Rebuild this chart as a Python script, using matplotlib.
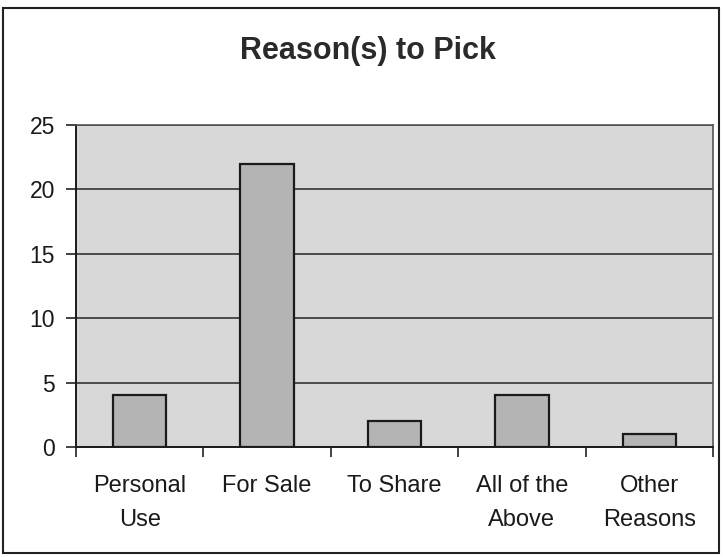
import matplotlib
matplotlib.use("Agg")
import matplotlib.pyplot as plt
from matplotlib.patches import Rectangle

# Chart data
categories = ["Personal\nUse", "For Sale", "To Share", "All of the\nAbove", "Other\nReasons"]
counts = [4, 22, 2, 4, 1]
y_ticks = [0, 5, 10, 15, 20, 25]

plt.rcParams['font.family'] = ['Liberation Sans', 'DejaVu Sans']

fig = plt.figure(figsize=(7.23, 5.57), dpi=100)
fig.patch.set_facecolor('white')

# outer chart border
fig.add_artist(Rectangle((3 / 723, 1 - 553 / 557), 716 / 723, 545 / 557,
                         transform=fig.transFigure, fill=False,
                         edgecolor='#222222', linewidth=1.5))

ax = fig.add_axes([76 / 723, 1 - 447 / 557, 637 / 723, 322 / 557])
ax.set_facecolor('#d8d8d8')

x = list(range(len(categories)))
ax.bar(x, counts, width=0.42, color='#b4b4b4', edgecolor='#1a1a1a', linewidth=1.6, zorder=3)

ax.set_xlim(-0.5, len(categories) - 0.5)
ax.set_ylim(0, 25)
ax.set_yticks(y_ticks)
ax.yaxis.grid(True, color='#333333', linewidth=1.2, zorder=1)
ax.set_axisbelow(True)

# category boundaries as ticks, labels centred between them
ax.set_xticks([i - 0.5 for i in range(len(categories) + 1)])
ax.set_xticklabels([])
ax.set_xticks(x, minor=True)
ax.set_xticklabels(categories, minor=True, fontsize=17, color='#1a1a1a', linespacing=1.65)
ax.tick_params(axis='x', which='minor', length=0, pad=20.5)
ax.tick_params(axis='x', which='major', length=7, width=1.2, direction='out', color='#222222')
ax.tick_params(axis='y', length=7, width=1.2, direction='out', labelsize=16.5, pad=8,
               labelcolor='#1a1a1a', color='#222222')

for side in ['left', 'bottom']:
    ax.spines[side].set_color('#1a1a1a')
    ax.spines[side].set_linewidth(1.4)
for side in ['top', 'right']:
    ax.spines[side].set_color('#555555')
    ax.spines[side].set_linewidth(1.2)

fig.text(368 / 723, 1 - 51 / 557, "Reason(s) to Pick", ha='center', va='center',
         fontsize=22, fontweight='bold', color='#2a2a2a')

plt.savefig('out.png', dpi=100)
